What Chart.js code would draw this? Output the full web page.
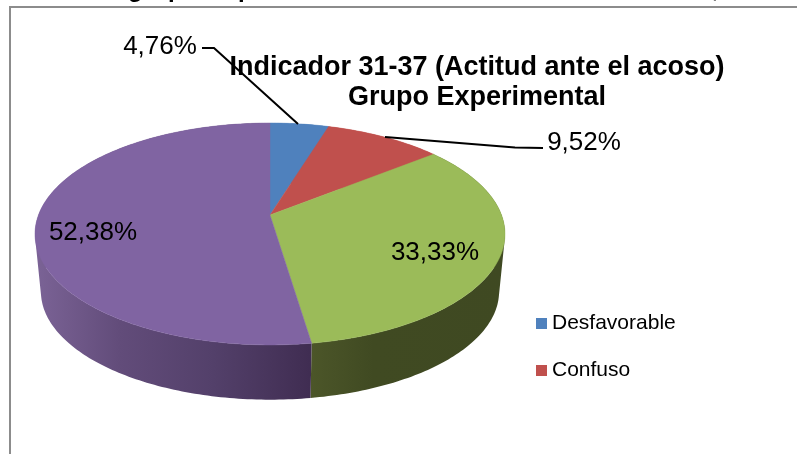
<!DOCTYPE html>
<html>
<head>
<meta charset="utf-8">
<style>
  html, body { margin: 0; padding: 0; background: #fff; overflow: hidden; }
  canvas { display: block; }
</style>
<script src="https://cdn.jsdelivr.net/npm/chart.js@4/dist/chart.umd.min.js"></script>
</head>
<body>
<canvas id="pie" width="797" height="454"></canvas>
<script>
// legend only shows the first two names in the picture, the others can't be read
const categories = ['Desfavorable', 'Confuso', '', ''];
const percentages = [4.76, 9.52, 33.33, 52.38];
const sliceColors = ['#4f81bd', '#c0504d', '#9bbb59', '#8064a2'];
const titleLines = ['Indicador 31-37 (Actitud ante el acoso)', 'Grupo Experimental'];
const cutOffHeader = ['g', 'p', 'p', ','];

const FONT = '"Liberation Sans", Arial, sans-serif';

// Excel style tilted pie: circle projected with a bit of perspective
const view = { x: 270, y: 215, a: 231.5, b: 107.7, k: 0.171 };
const rim = { drop: 58, shrink: 0.975 };

function project(angle, bottom) {
  const u = Math.cos(angle), v = Math.sin(angle);
  const d = 1 - view.k * v;
  const s = bottom ? rim.shrink : 1;
  return {
    x: view.x + s * view.a * u / d,
    y: view.y + (bottom ? rim.drop : 0) + s * view.b * v / d
  };
}

function tracePath(ctx, points) {
  ctx.beginPath();
  points.forEach((p, i) => i ? ctx.lineTo(p.x, p.y) : ctx.moveTo(p.x, p.y));
  ctx.closePath();
}

function rimPoints(start, end, bottom) {
  const pts = [];
  const steps = Math.max(8, Math.ceil((end - start) * 60));
  for (let i = 0; i <= steps; i++) {
    pts.push(project(start + (end - start) * i / steps, bottom));
  }
  return pts;
}

function signedArea(q) {
  let sum = 0;
  q.forEach((p, i) => {
    const n = q[(i + 1) % q.length];
    sum += p.x * n.y - n.x * p.y;
  });
  return sum;
}

function wallFill(ctx, index) {
  const g = ctx.createLinearGradient(35, 0, 505, 0);
  if (index === 3) {
    g.addColorStop(0, '#7b6396');
    g.addColorStop(0.18, '#624c7a');
    g.addColorStop(0.38, '#53406a');
    g.addColorStop(0.585, '#402d52');
    g.addColorStop(1, '#402d52');
  } else if (index === 2) {
    g.addColorStop(0, '#4c5629');
    g.addColorStop(0.585, '#4c5629');
    g.addColorStop(0.72, '#404a22');
    g.addColorStop(1, '#3f4922');
  } else {
    return sliceColors[index];
  }
  return g;
}

const tiltedPie = {
  id: 'tiltedPie',
  // the arcs keep the angles the doughnut controller worked out, only the drawing changes
  beforeDatasetsDraw(chart) {
    const ctx = chart.ctx;
    const arcs = chart.getDatasetMeta(0).data;
    ctx.save();
    arcs.forEach((arc, i) => {
      const top = rimPoints(arc.startAngle, arc.endAngle, false);
      const low = rimPoints(arc.startAngle, arc.endAngle, true);
      // side wall as one path of strips, all wound the same way so overlaps don't cancel
      ctx.beginPath();
      for (let s = 0; s < top.length - 1; s++) {
        const quad = [top[s], top[s + 1], low[s + 1], low[s]];
        if (signedArea(quad) < 0) quad.reverse();
        quad.forEach((p, j) => j ? ctx.lineTo(p.x, p.y) : ctx.moveTo(p.x, p.y));
        ctx.closePath();
      }
      ctx.fillStyle = wallFill(ctx, i);
      ctx.fill();
    });
    arcs.forEach((arc, i) => {
      const top = rimPoints(arc.startAngle, arc.endAngle, false);
      tracePath(ctx, [{ x: view.x, y: view.y }].concat(top));
      ctx.fillStyle = sliceColors[i];
      ctx.strokeStyle = sliceColors[i];
      ctx.lineWidth = 0.5;
      ctx.fill();
      ctx.stroke();
    });
    ctx.restore();
    return false;
  },
  afterDraw(chart) {
    const ctx = chart.ctx;
    ctx.save();

    // frame of the chart, only top and left are inside the crop
    ctx.strokeStyle = '#8c8c8c';
    ctx.lineWidth = 2;
    ctx.beginPath();
    ctx.moveTo(10, 454);
    ctx.lineTo(10, 7);
    ctx.lineTo(797, 7);
    ctx.stroke();

    // leader lines
    ctx.strokeStyle = '#000';
    ctx.lineWidth = 2;
    [[[202, 48], [214, 48], [298, 124]], [[385, 137], [515, 147.5], [543, 148]]].forEach(line => {
      ctx.beginPath();
      line.forEach((p, i) => i ? ctx.lineTo(p[0], p[1]) : ctx.moveTo(p[0], p[1]));
      ctx.stroke();
    });

    // data labels
    const labelSpots = [[160, 47], [584, 143], [435, 253], [93, 233]];
    ctx.fillStyle = '#000';
    ctx.font = '26px ' + FONT;
    ctx.textAlign = 'center';
    ctx.textBaseline = 'middle';
    percentages.forEach((v, i) => {
      ctx.fillText(v.toFixed(2).replace('.', ',') + '%', labelSpots[i][0], labelSpots[i][1]);
    });

    // legend
    const rows = [318, 365];
    ctx.font = '21px ' + FONT;
    ctx.textAlign = 'left';
    categories.filter(c => c).forEach((name, i) => {
      ctx.fillStyle = sliceColors[i];
      ctx.fillRect(536, rows[i], 11, 11);
      ctx.fillStyle = '#000';
      ctx.fillText(name, 552, rows[i] + 5);
    });

    // bottom of the line of text that the crop cut off above the chart
    const headerX = [128, 168, 238, 712];
    ctx.font = 'bold 24px ' + FONT;
    ctx.textBaseline = 'alphabetic';
    cutOffHeader.forEach((t, i) => ctx.fillText(t, headerX[i], -3));

    ctx.restore();
  }
};

new Chart(document.getElementById('pie'), {
  type: 'pie',
  data: {
    labels: categories,
    datasets: [{ data: percentages, backgroundColor: sliceColors, borderWidth: 0 }]
  },
  options: {
    responsive: false,
    animation: false,
    layout: { padding: { left: 157, top: 53 } },
    plugins: {
      legend: { display: false },
      tooltip: { enabled: false },
      title: {
        display: true,
        text: titleLines,
        color: '#000',
        font: { family: FONT, size: 27, weight: 'bold', lineHeight: 1.11 },
        padding: 0
      }
    }
  },
  plugins: [tiltedPie]
});
</script>
</body>
</html>
